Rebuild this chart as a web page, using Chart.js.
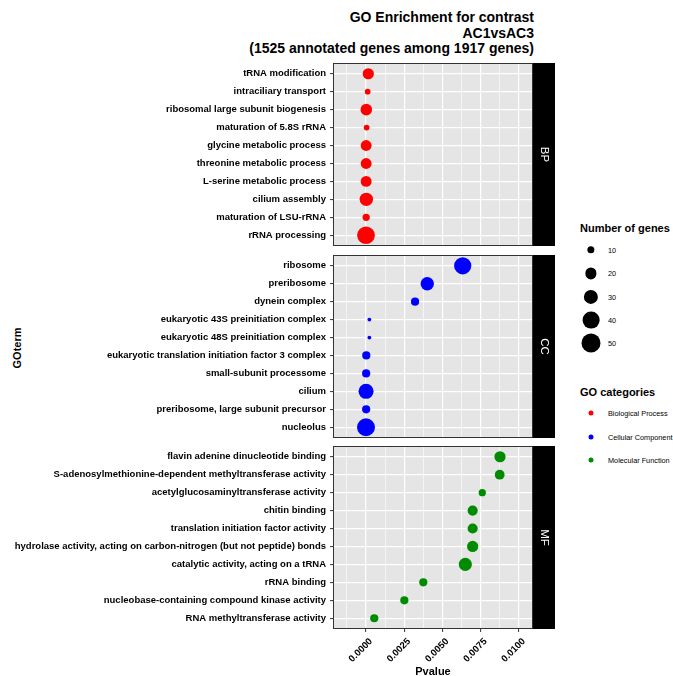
<!DOCTYPE html>
<html>
<head>
<meta charset="utf-8">
<script src="https://cdn.jsdelivr.net/npm/chart.js@4/dist/chart.umd.min.js"></script>
<style>
  body { margin: 0; background: #fff; width: 673px; height: 676px; position: relative; overflow: hidden; font-family: "Liberation Sans", Arial, sans-serif; color: #000; }
  canvas { position: absolute; left: 0; top: 0; }
  .txt { position: absolute; white-space: nowrap; }
  #titulo { right: 139px; top: 10px; text-align: right; font-weight: bold; font-size: 14px; line-height: 15.5px; }
  #goterm { left: 17px; top: 348px; font-weight: bold; font-size: 11px; transform: translate(-50%, -50%) rotate(-90deg); }
  .leg-titulo { font-weight: bold; font-size: 11px; }
  .leg-texto { font-size: 7.3px; transform: translateY(-50%); }
  .ponto { position: absolute; border-radius: 50%; transform: translate(-50%, -50%); }
</style>
</head>
<body>
<div id="titulo" class="txt">GO Enrichment for contrast<br>AC1vsAC3<br>(1525 annotated genes among 1917 genes)</div>
<div id="goterm" class="txt">GOterm</div>
<div id="legenda"></div>
<canvas id="bp" width="673" height="676"></canvas>
<canvas id="cc" width="673" height="676"></canvas>
<canvas id="mf" width="673" height="676"></canvas>
<script>
// Dados (de cima para baixo em cada painel)
var bpTerms = ['tRNA modification', 'intraciliary transport', 'ribosomal large subunit biogenesis', 'maturation of 5.8S rRNA',
  'glycine metabolic process', 'threonine metabolic process', 'L-serine metabolic process', 'cilium assembly',
  'maturation of LSU-rRNA', 'rRNA processing'];
var bpPvalue = [0.00015, 0.00011, 0.00002, 0.00004, 0.00001, 0.00001, 0.00001, 0.00002, 0.00001, 0.000001];
var bpGenes = [20, 7, 21, 7, 19, 19, 19, 27, 10, 44];

var ccTerms = ['ribosome', 'preribosome', 'dynein complex', 'eukaryotic 43S preinitiation complex',
  'eukaryotic 48S preinitiation complex', 'eukaryotic translation initiation factor 3 complex', 'small-subunit processome',
  'cilium', 'preribosome, large subunit precursor', 'nucleolus'];
var ccPvalue = [0.00633, 0.00401, 0.00321, 0.00022, 0.00022, 0.00002, 0.00001, 0.000003, 0.00001, 0.0000001];
var ccGenes = [42, 27, 12, 4, 4, 12, 12, 33, 12, 45];

var mfTerms = ['flavin adenine dinucleotide binding', 'S-adenosylmethionine-dependent methyltransferase activity',
  'acetylglucosaminyltransferase activity', 'chitin binding', 'translation initiation factor activity',
  'hydrolase activity, acting on carbon-nitrogen (but not peptide) bonds', 'catalytic activity, acting on a tRNA',
  'rRNA binding', 'nucleobase-containing compound kinase activity', 'RNA methyltransferase activity'];
var mfPvalue = [0.00877, 0.00875, 0.00761, 0.00698, 0.00698, 0.00698, 0.0065, 0.00375, 0.00251, 0.00054];
var mfGenes = [20, 16, 10, 17, 17, 20, 26, 12, 12, 12];

var xTicks = [-0.00125, 0, 0.00125, 0.0025, 0.00375, 0.005, 0.00625, 0.0075, 0.00875, 0.01];
var sizeBreaks = [10, 20, 30, 40, 50];
var goCategories = ['Biological Process', 'Cellular Component', 'Molecular Function'];
var goColors = ['#FF0000', '#0000FF', '#008B00'];

var fonte = '"Liberation Sans", Arial, sans-serif';
var xMin = -0.00216, xMax = 0.01093;

//Converte o número de genes em raio (área proporcional, como no ggplot)
function raio(n) {
  return Math.max(1, (3.0 * Math.sqrt(n) - 2.2) / 2);
}

function principal(v) {
  var k = v / 0.0025;
  return Math.abs(k - Math.round(k)) < 1e-6;
}

//Fundo cinza, borda e faixa preta com o nome do painel
var painelPlugin = {
  id: 'painel',
  beforeDraw: function(chart) {
    var a = chart.chartArea, ctx = chart.ctx;
    ctx.save();
    ctx.fillStyle = '#E5E5E5';
    ctx.fillRect(a.left, a.top, a.right - a.left, a.bottom - a.top);
    ctx.restore();
  },
  afterDraw: function(chart, args, opts) {
    var a = chart.chartArea, ctx = chart.ctx;
    ctx.save();
    ctx.strokeStyle = '#333';
    ctx.lineWidth = 1;
    ctx.strokeRect(a.left + 0.5, a.top + 0.5, a.right - a.left - 1, a.bottom - a.top - 1);
    ctx.fillStyle = '#000';
    ctx.fillRect(a.right, a.top, 22, a.bottom - a.top);
    ctx.translate(a.right + 11, (a.top + a.bottom) / 2);
    ctx.rotate(Math.PI / 2);
    ctx.fillStyle = '#fff';
    ctx.font = '11.5px ' + fonte;
    ctx.textAlign = 'center';
    ctx.textBaseline = 'middle';
    ctx.fillText(opts.label, 0, 0);
    ctx.restore();
  }
};

function criaPainel(id, termos, pvalores, genes, cor, faixa, topo, base, eixoX) {
  return new Chart(document.getElementById(id), {
    type: 'bubble',
    data: {
      datasets: [{
        data: termos.map(function(t, i) { return { x: pvalores[i], y: i, r: raio(genes[i]) }; }),
        backgroundColor: cor,
        borderWidth: 0,
        hoverRadius: 0,
        hoverBorderWidth: 0
      }]
    },
    options: {
      responsive: false,
      animation: false,
      devicePixelRatio: 1,
      events: [],
      layout: { padding: { left: 0, right: 140, top: topo, bottom: eixoX ? 0 : 676 - base } },
      plugins: { legend: { display: false }, tooltip: { enabled: false }, painel: { label: faixa } },
      scales: {
        x: {
          type: 'linear', min: xMin, max: xMax,
          afterBuildTicks: function(s) { s.ticks = xTicks.map(function(v) { return { value: v }; }); },
          afterFit: function(s) { s.height = eixoX ? 676 - base : 0; },
          border: { display: false },
          grid: {
            color: '#fff',
            lineWidth: function(c) { return c.tick && principal(c.tick.value) ? 1.2 : 0.6; },
            drawTicks: eixoX,
            tickLength: 3,
            tickWidth: 1,
            tickColor: function(c) { return c.tick && principal(c.tick.value) ? '#333' : 'rgba(0,0,0,0)'; }
          },
          ticks: {
            display: eixoX, autoSkip: false, minRotation: 45, maxRotation: 45, padding: 4, labelOffset: 5, color: '#000',
            font: { family: fonte, weight: 'bold', size: 9.5 },
            callback: function(v) { return principal(v) ? v.toFixed(4) : ''; }
          },
          title: { display: eixoX, text: 'Pvalue', color: '#000', font: { family: fonte, weight: 'bold', size: 11 }, padding: { top: 0, bottom: -3 } }
        },
        y: {
          type: 'linear', reverse: true, min: -0.6, max: termos.length - 0.4,
          afterBuildTicks: function(s) { s.ticks = termos.map(function(t, i) { return { value: i }; }); },
          afterFit: function(s) { s.width = 333; },
          border: { display: false },
          grid: { color: '#fff', lineWidth: 1.2, tickLength: 3, tickWidth: 1, tickColor: '#333' },
          ticks: {
            autoSkip: false, padding: 4, color: '#000',
            font: { family: fonte, weight: 'bold', size: 9.5 },
            callback: function(v) { return termos[Math.round(v)]; }
          }
        }
      }
    },
    plugins: [painelPlugin]
  });
}

criaPainel('bp', bpTerms, bpPvalue, bpGenes, goColors[0], 'BP', 63, 246, false);
criaPainel('cc', ccTerms, ccPvalue, ccGenes, goColors[1], 'CC', 255, 438, false);
criaPainel('mf', mfTerms, mfPvalue, mfGenes, goColors[2], 'MF', 446, 629, true);

//Legendas (tamanho e categorias)
var leg = document.getElementById('legenda');
function addTexto(classe, texto, x, y) {
  var d = document.createElement('div');
  d.className = 'txt ' + classe;
  d.style.left = x + 'px';
  d.style.top = y + 'px';
  d.textContent = texto;
  leg.appendChild(d);
}
function addPonto(x, y, diam, cor) {
  var d = document.createElement('div');
  d.className = 'ponto';
  d.style.left = x + 'px';
  d.style.top = y + 'px';
  d.style.width = diam + 'px';
  d.style.height = diam + 'px';
  d.style.background = cor;
  leg.appendChild(d);
}
addTexto('leg-titulo', 'Number of genes', 580, 222);
sizeBreaks.forEach(function(n, i) {
  var y = 250 + i * 23.3;
  addPonto(591, y, raio(n) * 2, '#000');
  addTexto('leg-texto', String(n), 608, y);
});
addTexto('leg-titulo', 'GO categories', 580, 386);
goCategories.forEach(function(c, i) {
  var y = 413 + i * 23.5;
  addPonto(591, y, 5, goColors[i]);
  addTexto('leg-texto', c, 608, y);
});
</script>
</body>
</html>
